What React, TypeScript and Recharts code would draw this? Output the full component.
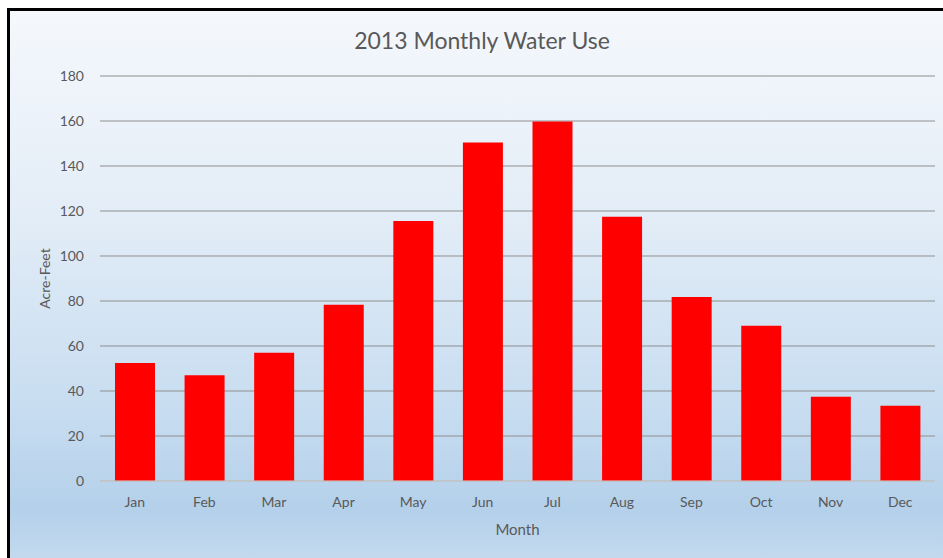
import { BarChart, Bar, XAxis, YAxis, CartesianGrid } from 'recharts';

// 2013 monthly water use, acre-feet
const months = ['Jan', 'Feb', 'Mar', 'Apr', 'May', 'Jun', 'Jul', 'Aug', 'Sep', 'Oct', 'Nov', 'Dec'];
const acreFeet = [52.5, 47, 57, 78.3, 115.6, 150.5, 159.8, 117.4, 81.8, 69, 37.5, 33.4];
const yTicks = [0, 20, 40, 60, 80, 100, 120, 140, 160, 180];

const data = months.map((month, i) => ({ month, value: acreFeet[i] }));

const FONT = 'Lato, "Open Sans", sans-serif';
const GREY = '#595959';

const YLabel = (props: any) => {
  const vb = props.viewBox;
  const cy = vb.y + vb.height / 2;
  return (
    <text x={44} y={cy} transform={`rotate(-90 44 ${cy})`} textAnchor="middle" dominantBaseline="central"
      fill={GREY} fontSize={14} fontFamily={FONT}>
      Acre-Feet
    </text>
  );
};

export default function App() {
  return (
    <div style={{ position: 'fixed', left: 0, top: 0, width: 943, height: 558, background: '#fff', overflow: 'hidden' }}>
      {/* chart frame, cut off on the right and bottom */}
      <div
        style={{
          position: 'absolute', left: 7, top: 8, width: 960, height: 580,
          borderLeft: '3px solid #000', borderTop: '3px solid #000',
          background: 'linear-gradient(to bottom, #f5f8fc 0%, #e3edf7 35%, #c6dcf0 70%, #b4d0ea 86%, #cde0f1 100%)',
        }}
      />
      <div
        style={{
          position: 'absolute', left: 7, top: 26, width: 950, textAlign: 'center',
          fontFamily: FONT, fontSize: 23, color: GREY,
        }}
      >
        2013 Monthly Water Use
      </div>
      <div style={{ position: 'absolute', left: 0, top: 0 }}>
        <BarChart width={943} height={558} data={data} margin={{ top: 76, right: 8, bottom: 0, left: 40 }} barSize={40}>
          <CartesianGrid vertical={false} stroke="#8f8f8f" strokeWidth={1} />
          <XAxis
            dataKey="month"
            tickLine={false}
            axisLine={{ stroke: '#d9d9d9' }}
            tick={{ fill: GREY, fontSize: 14, fontFamily: FONT }}
            tickMargin={10}
            height={77}
            label={{ value: 'Month', position: 'insideTop', offset: 43, fill: GREY, fontSize: 15, fontFamily: FONT }}
          />
          <YAxis
            domain={[0, 180]}
            ticks={yTicks}
            interval={0}
            width={60}
            tickLine={false}
            axisLine={false}
            tick={{ fill: GREY, fontSize: 14, fontFamily: FONT }}
            tickMargin={10}
            label={<YLabel />}
          />
          <Bar dataKey="value" fill="#ff0000" isAnimationActive={false} />
        </BarChart>
      </div>
    </div>
  );
}
